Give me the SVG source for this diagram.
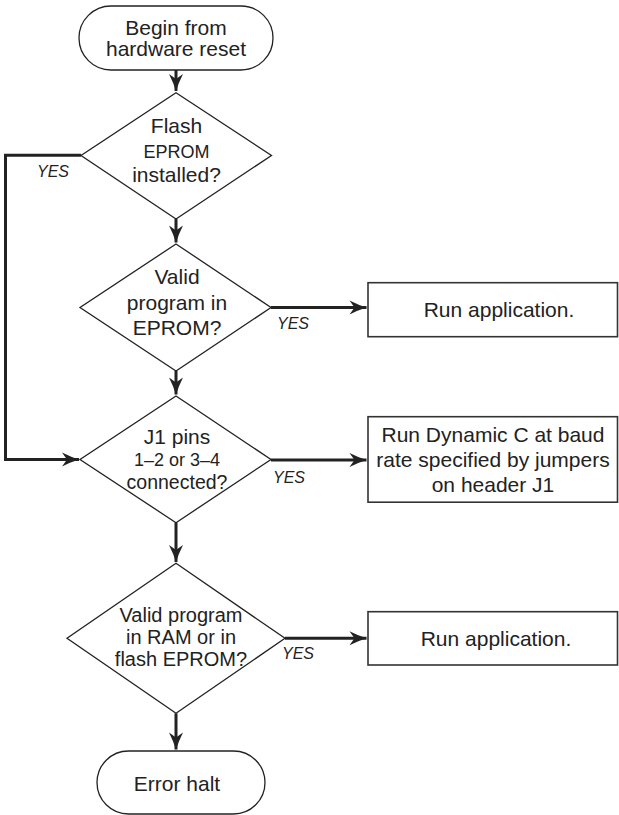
<svg xmlns="http://www.w3.org/2000/svg" width="619" height="815" viewBox="0 0 619 815">
<style>
.shape{fill:#fff;stroke:#222;stroke-width:1.3}
.box{fill:#fff;stroke:#333;stroke-width:1.6}
.t{font-family:"Liberation Sans",Arial,sans-serif;font-size:21px;fill:#222;text-anchor:middle}
.s{font-size:18px}
.m{font-size:20px}
.yes{font-family:"Liberation Sans",Arial,sans-serif;font-size:16px;font-style:italic;fill:#222}
.c{fill:none;stroke:#222;stroke-width:3}
</style>
<defs>
<marker id="ah" markerUnits="userSpaceOnUse" markerWidth="20" markerHeight="16" viewBox="-18 -8 20 16" refX="0" refY="0" orient="auto">
<path d="M0,0 Q-8,-2.5 -17,-7 L-12,0 L-17,7 Q-8,2.5 0,0 Z" fill="#222"/>
</marker>
</defs>
<g id="connectors">
<path class="c" d="M176,70 V91" marker-end="url(#ah)"/>
<path class="c" d="M176,219 V242.5" marker-end="url(#ah)"/>
<path class="c" d="M176,371 V394.5" marker-end="url(#ah)"/>
<path class="c" d="M176,522.5 V562" marker-end="url(#ah)"/>
<path class="c" d="M176,713.3 V749.5" marker-end="url(#ah)"/>
<path class="c" d="M81,155.3 H5.5 V459.5 H79" marker-end="url(#ah)"/>
<path class="c" d="M271,307.5 H366.5" marker-end="url(#ah)"/>
<path class="c" d="M271,460 H366.5" marker-end="url(#ah)"/>
<path class="c" d="M285,638.3 H366.5" marker-end="url(#ah)"/>
<text class="yes" x="37" y="177">YES</text>
<text class="yes" x="277" y="329">YES</text>
<text class="yes" x="273" y="483">YES</text>
<text class="yes" x="282" y="659">YES</text>
</g>
<g id="start">
<rect class="shape" x="79" y="6" width="194" height="64" rx="32" ry="32"/>
<text class="t" x="176" y="34.5">Begin from</text>
<text class="t" x="176" y="56">hardware reset</text>
</g>
<g id="d1">
<polygon class="shape" points="176,92.7 271.5,155.5 176,219 81,155.5"/>
<text class="t" x="176.5" y="133">Flash</text>
<text class="t s" x="176.5" y="158">EPROM</text>
<text class="t" x="176.5" y="181.5">installed?</text>
</g>
<g id="d2">
<polygon class="shape" points="176,244 271,307.5 176,371 80,307.5"/>
<text class="t" x="177" y="284">Valid</text>
<text class="t" x="177" y="309.5">program in</text>
<text class="t" x="177" y="335">EPROM?</text>
</g>
<g id="run1">
<rect class="box" x="368" y="282.7" width="249.5" height="54"/>
<text class="t" x="499" y="317.3">Run application.</text>
</g>
<g id="d3">
<polygon class="shape" points="176,396 271,459.5 176,522.7 80,459.5"/>
<text class="t" x="177" y="444">J1 pins</text>
<text class="t s" x="177" y="466">1–2 or 3–4</text>
<text class="t" x="177" y="489" style="font-size:19.5px">connected?</text>
</g>
<g id="run2">
<rect class="box" x="368" y="416.7" width="249.5" height="85.5"/>
<text class="t" x="493" y="442">Run Dynamic C at baud</text>
<text class="t" x="493" y="467">rate specified by jumpers</text>
<text class="t" x="493" y="492">on header J1</text>
</g>
<g id="d4">
<polygon class="shape" points="176,563.3 285,638.3 176,713.3 67,638.3"/>
<text class="t m" x="181" y="622">Valid program</text>
<text class="t m" x="181" y="644">in RAM or in</text>
<text class="t m" x="181" y="666">flash EPROM?</text>
</g>
<g id="run3">
<rect class="box" x="368" y="611.7" width="249.5" height="53.3"/>
<text class="t" x="496" y="645.7">Run application.</text>
</g>
<g id="end">
<rect class="shape" x="97" y="751" width="168" height="63" rx="31.5" ry="31.5"/>
<text class="t" x="177" y="790.5">Error halt</text>
</g>
</svg>
